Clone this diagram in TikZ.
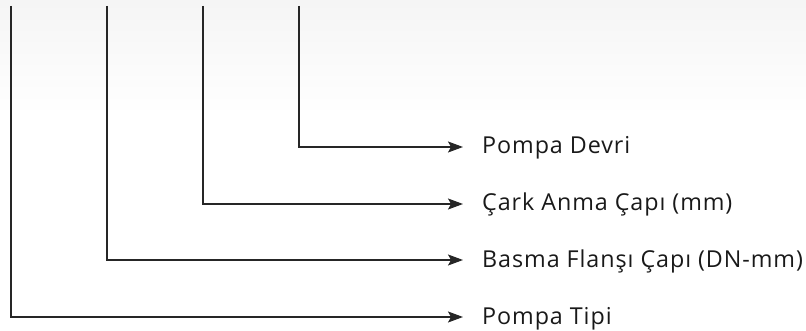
\documentclass[tikz,border=0pt]{standalone}
\usepackage{fontspec}
\setmainfont{Open Sans}[LetterSpace=4]
\usetikzlibrary{arrows.meta,positioning}

\begin{document}
\begin{tikzpicture}[x=1pt,y=-1pt,
  lbl/.style={anchor=base west,inner sep=0pt,text=black!90,
    font=\fontsize{23.3}{27}\selectfont},
  lead/.style={draw=black!85,line width=1.3pt,shorten >=19pt,
    -{Stealth[length=15pt,width=11pt,inset=3pt]}}]
  \useasboundingbox (0,0) rectangle (806,331);
  \shade[top color=black!4,bottom color=white] (0,0) rectangle (806,115);
  \node (devri) [lbl] at (482,154) {Pompa Devri};
  \node (cark) [lbl] at (482,211) {Çark Anma Çapı (mm)};
  \node (basma) [lbl] at (482,267) {Basma Flanşı Çapı (DN-mm)};
  \node (tipi) [lbl] at (482,324) {Pompa Tipi};
  \coordinate (d) at (299,6);
  \coordinate (c) at (203,6);
  \coordinate (b) at (107,6);
  \coordinate (t) at (11,6);
  \draw[lead] (d) |- ([yshift=7pt]devri.base west);
  \draw[lead] (c) |- ([yshift=7pt]cark.base west);
  \draw[lead] (b) |- ([yshift=7pt]basma.base west);
  \draw[lead] (t) |- ([yshift=7pt]tipi.base west);
\end{tikzpicture}
\end{document}
